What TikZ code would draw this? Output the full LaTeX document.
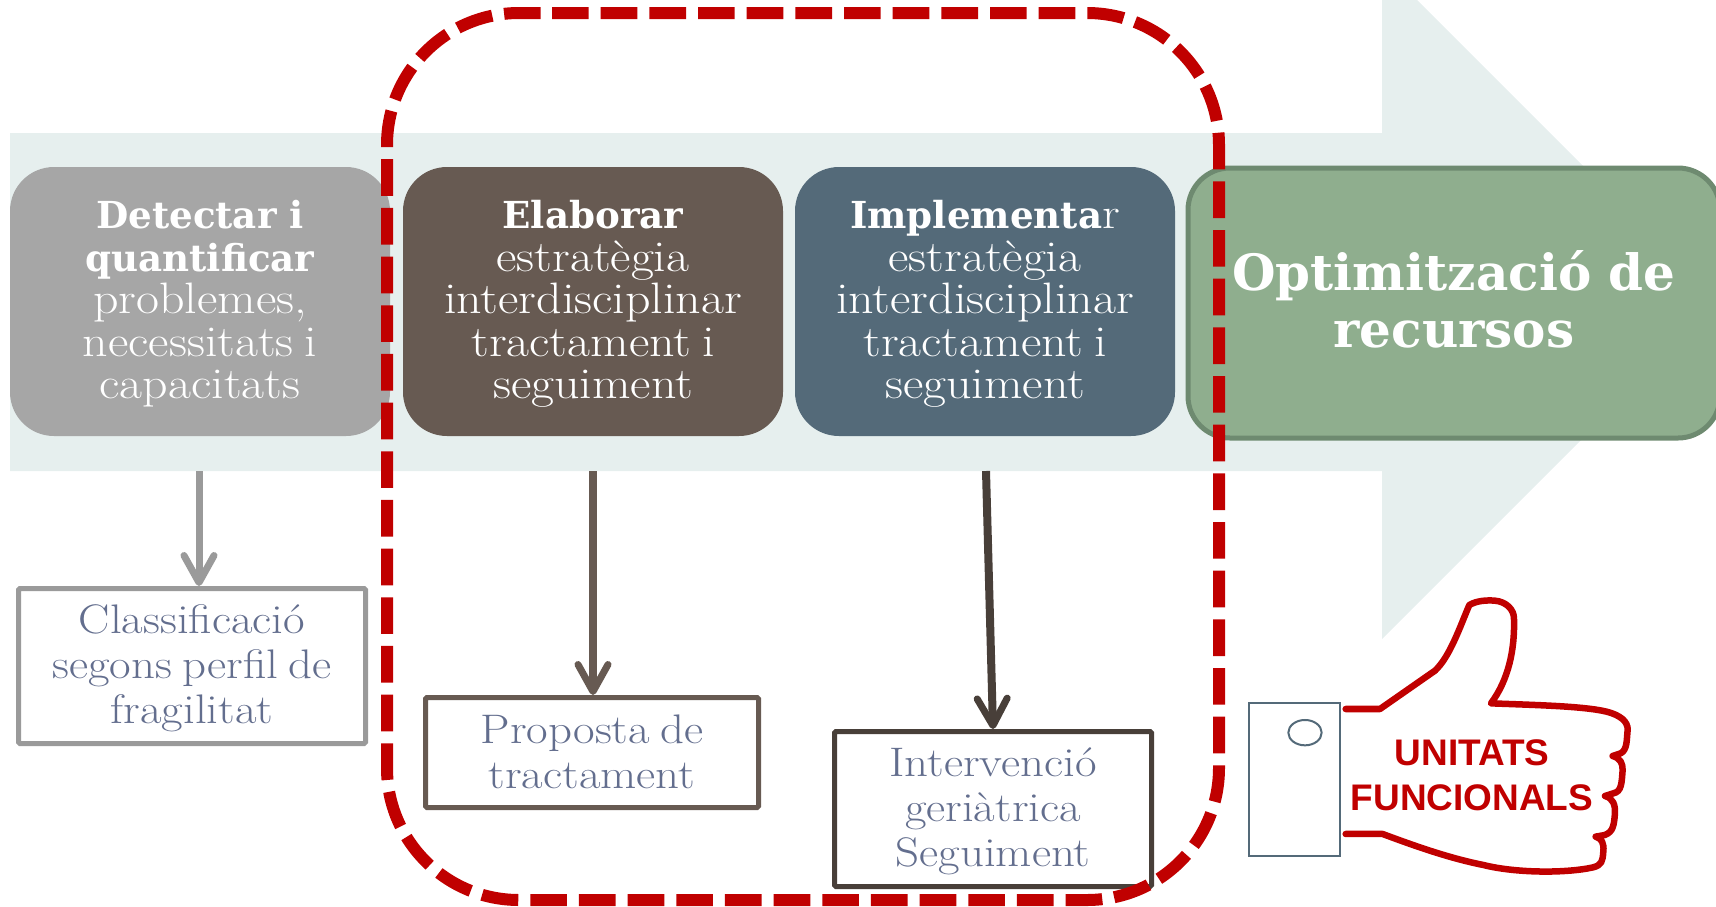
\documentclass[tikz,border=0pt]{standalone}
\usepackage{fontspec}
\usetikzlibrary{arrows.meta}
\setmainfont{Latin Modern Roman}
\newfontfamily\lightslab{Latin Modern Roman}[FakeStretch=1.135,WordSpace=0.72]
\newfontfamily\boldslab{DejaVu Serif}[BoldFont={DejaVu Serif Bold}]
\newfontfamily\armo{Liberation Sans}
\definecolor{banner}{HTML}{E6EFEE}
\definecolor{grayb}{HTML}{A6A6A6}
\definecolor{brownb}{HTML}{675A52}
\definecolor{blueb}{HTML}{546A79}
\definecolor{greenb}{HTML}{8FAE8E}
\definecolor{greenl}{HTML}{6E8A70}
\definecolor{redd}{HTML}{C00000}
\definecolor{graya}{HTML}{9A9A9A}
\definecolor{darka}{HTML}{483F39}
\definecolor{slate}{HTML}{636E8E}
\tikzset{
  stepbox/.style={rounded corners=44pt, minimum width=380pt, minimum height=269pt, inner sep=0pt, text=white, align=center, anchor=center,
    font=\lightslab\fontsize{44}{42.5}\selectfont},
  resbox/.style={draw, line width=5pt, rounded corners=1.5pt, fill=white, inner sep=0pt, align=center, text=slate,
    font=\lightslab\fontsize{41.3}{45}\selectfont},
  downarrow/.style={line width=#1, line cap=butt, -{Straight Barb[length=27pt,width=30pt,line width=7pt,round]}},
}
\newcommand{\bs}[1]{{\boldslab\bfseries\fontsize{37.2}{42.5}\selectfont #1}}
\newcommand{\topstrut}[1]{\rule{0pt}{#1}}
\newcommand{\botstrut}[1]{\rule[-#1]{0pt}{#1}}
\begin{document}
\begin{tikzpicture}[x=1pt,y=-1pt]
\useasboundingbox (0,0) rectangle (1716,906);
\clip (0,0) rectangle (1716,906);
% banner arrow
\fill[banner] (10,133) -- (1382,133) -- (1382,-35) -- (1719,302) -- (1382,639) -- (1382,471) -- (10,471) -- cycle;
% step boxes
\node[stepbox, fill=grayb] (s1) at (200,301.5) {\topstrut{33pt}\bs{Detectar i}\\\bs{quantificar}\\problemes,\\necessitats i\\capacitats};
\node[stepbox, fill=brownb] (s2) at (593,301.5) {\topstrut{33pt}\bs{Elaborar}\\estratègia\\interdisciplinar\\tractament i\\seguiment};
\node[stepbox, fill=blueb] (s3) at (985,301.5) {\topstrut{33pt}\bs{Implementa}r\\estratègia\\interdisciplinar\\tractament i\\seguiment};
\node[fill=greenb, draw=greenl, line width=5pt, rounded corners=42pt, minimum width=532pt, minimum height=270pt, inner sep=0pt, align=center, text=white,
  font=\boldslab\bfseries\fontsize{50}{57}\selectfont] (s4) at (1454,303) {Optimització de\\recursos\botstrut{8pt}};
% result boxes
\node[resbox, draw=graya, minimum width=347pt, minimum height=155pt] (r1) at (192,666) {\topstrut{33pt}Classificació\\segons perfil de\\fragilitat};
\node[resbox, draw=brownb, minimum width=333pt, minimum height=110pt] (r2) at (592,752.5) {Proposta de\\tractament\botstrut{2pt}};
\node[resbox, draw=darka, minimum width=317pt, minimum height=155pt] (r3) at (993,809) {\topstrut{33pt}Intervenció\\geriàtrica\\Seguiment};
% arrows
\coordinate (a1) at (199,471);
\coordinate (a2) at (593,471);
\coordinate (a3) at (986,471);
\draw[graya, downarrow=7pt] (a1) -- (a1 |- r1.north);
\draw[brownb, downarrow=8pt] (a2) -- (a2 |- r2.north);
\draw[darka, downarrow=8pt] (a3) -- (r3.north);
% hand
\begin{scope}[shift={(1200,580)}, x=0.3333pt, y=-0.3333pt]
\draw[redd, line width=6.5pt, line cap=round, line join=round]
  (437,387) -- (540,387) -- (705,272)
  .. controls (750,230) and (780,140) .. (808,75)
  .. controls (830,62) and (860,60) .. (885,62)
  .. controls (920,65) and (942,90) .. (942,115)
  .. controls (945,210) and (925,300) .. (873,370)
  .. controls (1000,375) and (1150,378) .. (1220,395)
  .. controls (1260,405) and (1285,425) .. (1283,450)
  .. controls (1280,480) and (1282,510) .. (1262,520)
  -- (1238,528)
  .. controls (1262,535) and (1268,550) .. (1268,570)
  .. controls (1265,610) and (1265,635) .. (1240,640)
  -- (1215,648)
  .. controls (1240,655) and (1246,675) .. (1245,700)
  .. controls (1242,735) and (1240,755) .. (1215,765)
  -- (1187,770)
  .. controls (1205,775) and (1213,790) .. (1210,815)
  .. controls (1208,845) and (1205,855) .. (1180,862)
  .. controls (1100,880) and (950,880) .. (850,855)
  .. controls (750,835) and (650,800) .. (548,762)
  -- (437,762);
\draw[blueb, line width=2pt] (148,370) rectangle (420,828);
\draw[blueb, line width=2pt] (315,458) ellipse [x radius=50, y radius=38];
\end{scope}
\node[inner sep=0pt, align=center, text=redd, font=\armo\bfseries\fontsize{37}{44.5}\selectfont] (uf) at (1472,775) {UNITATS\\FUNCIONALS};
% dashed frame
\draw[redd, line width=12pt, dash pattern=on 36.67pt off 12pt, rounded corners=132pt]
  (552,13) -- (1219,13) -- (1219,900) -- (387,900) -- (387,13) -- (552,13);
\end{tikzpicture}
\end{document}
